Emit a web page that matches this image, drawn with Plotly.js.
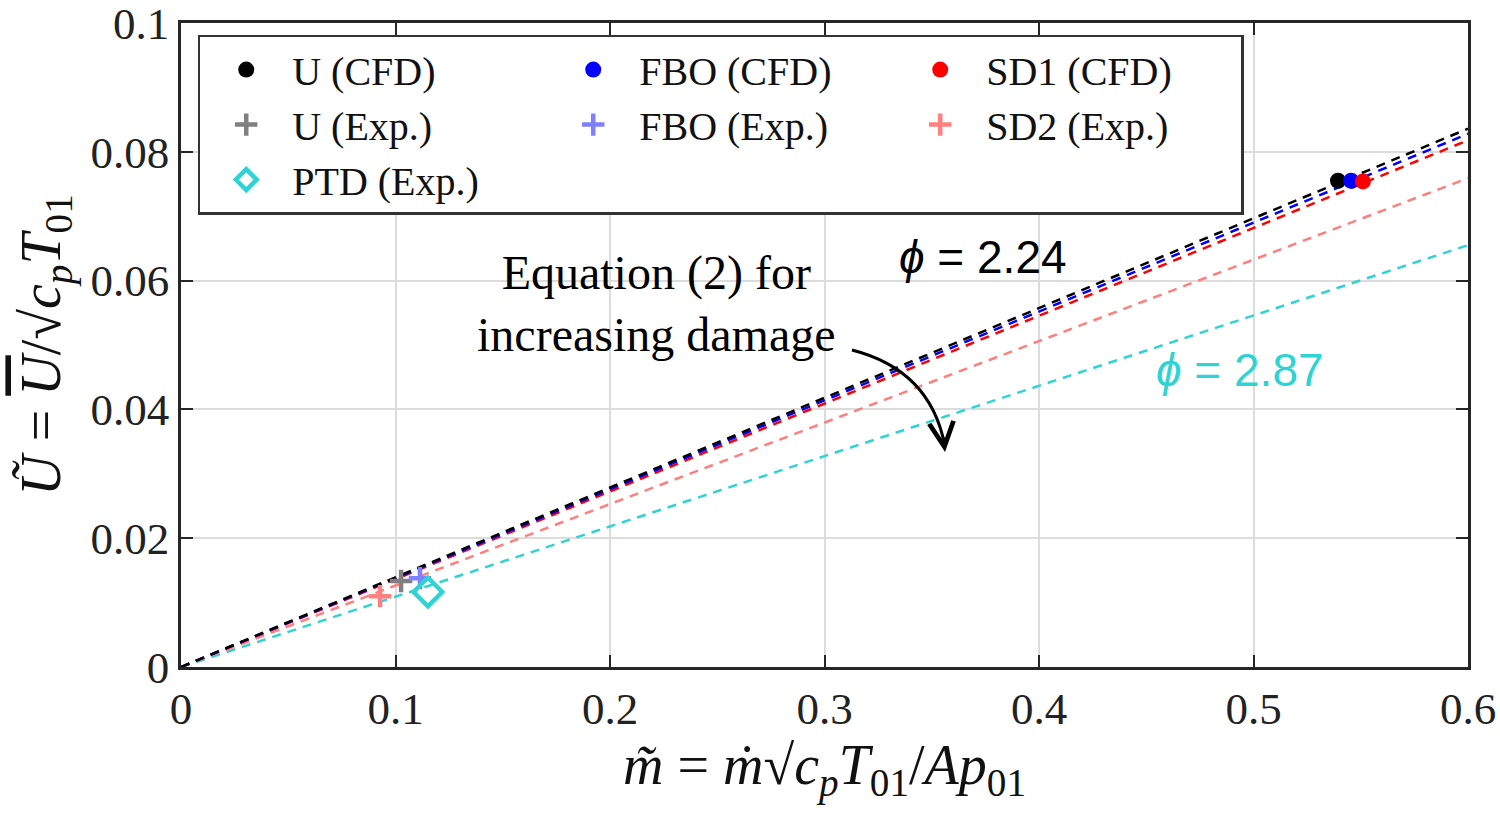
<!DOCTYPE html>
<html>
<head>
<meta charset="utf-8">
<script src="https://cdn.plot.ly/plotly-3.0.1.min.js"></script>
<style>
  html, body { margin: 0; padding: 0; background: #fff; }
  #chart { width: 1500px; height: 814px; }
</style>
</head>
<body>
<div id="chart"></div>
<script>
// equation (2) lines, drawn from the origin to the right edge
const lineX = [0, 0.6];
const lineU = [0, 0.0836];
const lineFBO = [0, 0.0828];
const lineSD1 = [0, 0.0818];
const lineSD2 = [0, 0.0759];
const linePTD = [0, 0.0655];

// CFD points
const cfdNames = ['U (CFD)', 'FBO (CFD)', 'SD1 (CFD)'];
const cfdX = [0.5394, 0.5455, 0.5510];
const cfdY = [0.0755, 0.0755, 0.0754];

// experiment points
const expNames = ['U (Exp.)', 'FBO (Exp.)', 'SD2 (Exp.)'];
const expX = [0.1026, 0.1114, 0.0928];
const expY = [0.01335, 0.0138, 0.0110];

const ptdX = [0.1151];
const ptdY = [0.01165];

const cfdColors = ['#000000', '#0000ff', '#ff0000'];
const expColors = ['#808080', '#8080ff', '#ff8080'];
const ptdColor = '#2fd3d3';

const serif = 'Liberation Serif, DejaVu Serif, serif';
const sans = 'Liberation Sans, Arial, sans-serif';

function dashLine(y, color) {
  return {
    type: 'scatter', mode: 'lines', x: lineX, y: y,
    line: {color: color, width: 2.5, dash: '9px,7px'},
    showlegend: false, hoverinfo: 'skip'
  };
}

const data = [
  dashLine(linePTD, ptdColor),
  dashLine(lineSD2, '#ff7f7f'),
  dashLine(lineSD1, '#ff0000'),
  dashLine(lineFBO, '#0000ff'),
  dashLine(lineU, '#000000')
];

// legend order is row-wise: CFD row, Exp row, PTD
cfdNames.forEach((n, i) => {
  data.push({
    type: 'scatter', mode: 'markers', name: n,
    x: [cfdX[i]], y: [cfdY[i]],
    marker: {color: cfdColors[i], size: 16, symbol: 'circle'},
    legendrank: i + 1
  });
});
expNames.forEach((n, i) => {
  data.push({
    type: 'scatter', mode: 'markers', name: n,
    x: [expX[i]], y: [expY[i]],
    marker: {color: expColors[i], size: 16, symbol: 'cross-thin',
             line: {color: expColors[i], width: 4.5}},
    legendrank: i + 4
  });
});
data.push({
  type: 'scatter', mode: 'markers', name: 'PTD (Exp.)',
  x: ptdX, y: ptdY,
  marker: {color: ptdColor, size: 22, symbol: 'diamond-open',
           line: {color: ptdColor, width: 4.5}},
  legendrank: 7
});

const layout = {
  width: 1500, height: 814,
  margin: {l: 181, r: 32, t: 23, b: 147},
  paper_bgcolor: '#fff', plot_bgcolor: '#fff',
  font: {family: serif, size: 44, color: '#222'},
  showlegend: true,
  legend: {
    orientation: 'h', x: 0.013, y: 0.982, xanchor: 'left', yanchor: 'top',
    entrywidth: 250, itemwidth: 82, traceorder: 'normal',
    bgcolor: '#fff', bordercolor: '#333', borderwidth: 2.5,
    font: {family: serif, size: 40, color: '#111'},
    itemsizing: 'trace'
  },
  xaxis: {
    range: [0, 0.6], dtick: 0.1, tickformat: '.1~f',
    showgrid: true, gridcolor: '#dcdcdc', gridwidth: 2,
    zeroline: false, showline: true, mirror: 'ticks', linecolor: '#262626', linewidth: 2.5,
    ticks: 'inside', ticklen: 12, tickwidth: 2, tickcolor: '#262626',
    tickfont: {family: serif, size: 45, color: '#222'},
    ticklabeloverflow: 'allow',
    title: {
      text: '<i>m̃</i> = <i>ṁ</i>√<i>c<sub>p</sub>T</i><sub>01</sub>/<i>Ap</i><sub>01</sub>',
      font: {family: serif, size: 56, color: '#111'}, standoff: 10
    }
  },
  yaxis: {
    range: [0, 0.1],
    tickvals: [0, 0.02, 0.04, 0.06, 0.08, 0.1],
    ticktext: ['0', '0.02', '0.04', '0.06', '0.08', '0.1'],
    showgrid: true, gridcolor: '#dcdcdc', gridwidth: 2,
    zeroline: false, showline: true, mirror: 'ticks', linecolor: '#262626', linewidth: 2.5,
    ticks: 'inside', ticklen: 12, tickwidth: 2, tickcolor: '#262626',
    tickfont: {family: serif, size: 45, color: '#222'},
    ticklabeloverflow: 'allow',
    title: {
      text: '<i>Ũ</i> = <span style="text-decoration:overline"><i>U</i></span>/√<i>c<sub>p</sub>T</i><sub>01</sub>',
      font: {family: serif, size: 56, color: '#111'}, standoff: 12
    }
  },
  shapes: [{
    type: 'path', xref: 'x', yref: 'y',
    path: 'M 0.3128,0.04922 Q 0.3492,0.04612 0.3560,0.0345',
    line: {color: '#000', width: 3}
  }],
  annotations: [
    {
      x: 0.3739, y: 0.0637, xref: 'x', yref: 'y', showarrow: false,
      text: '<i>ϕ</i> = 2.24',
      font: {family: sans, size: 46, color: '#000'}
    },
    {
      x: 0.4937, y: 0.0461, xref: 'x', yref: 'y', showarrow: false,
      text: '<i>ϕ</i> = 2.87',
      font: {family: sans, size: 46, color: ptdColor}
    },
    {
      x: 0.2219, y: 0.0564, xref: 'x', yref: 'y', showarrow: false,
      text: 'Equation (2) for<br>increasing damage', align: 'center',
      font: {family: serif, size: 48, color: '#000'}
    },
    {
      x: 0.3562, y: 0.0334, xref: 'x', yref: 'y', text: '',
      showarrow: true, arrowhead: 5, arrowsize: 1.6, arrowwidth: 3, arrowcolor: '#000',
      ax: -2, ay: -16
    }
  ]
};

Plotly.newPlot('chart', data, layout, {displayModeBar: false, responsive: false});
</script>
</body>
</html>
